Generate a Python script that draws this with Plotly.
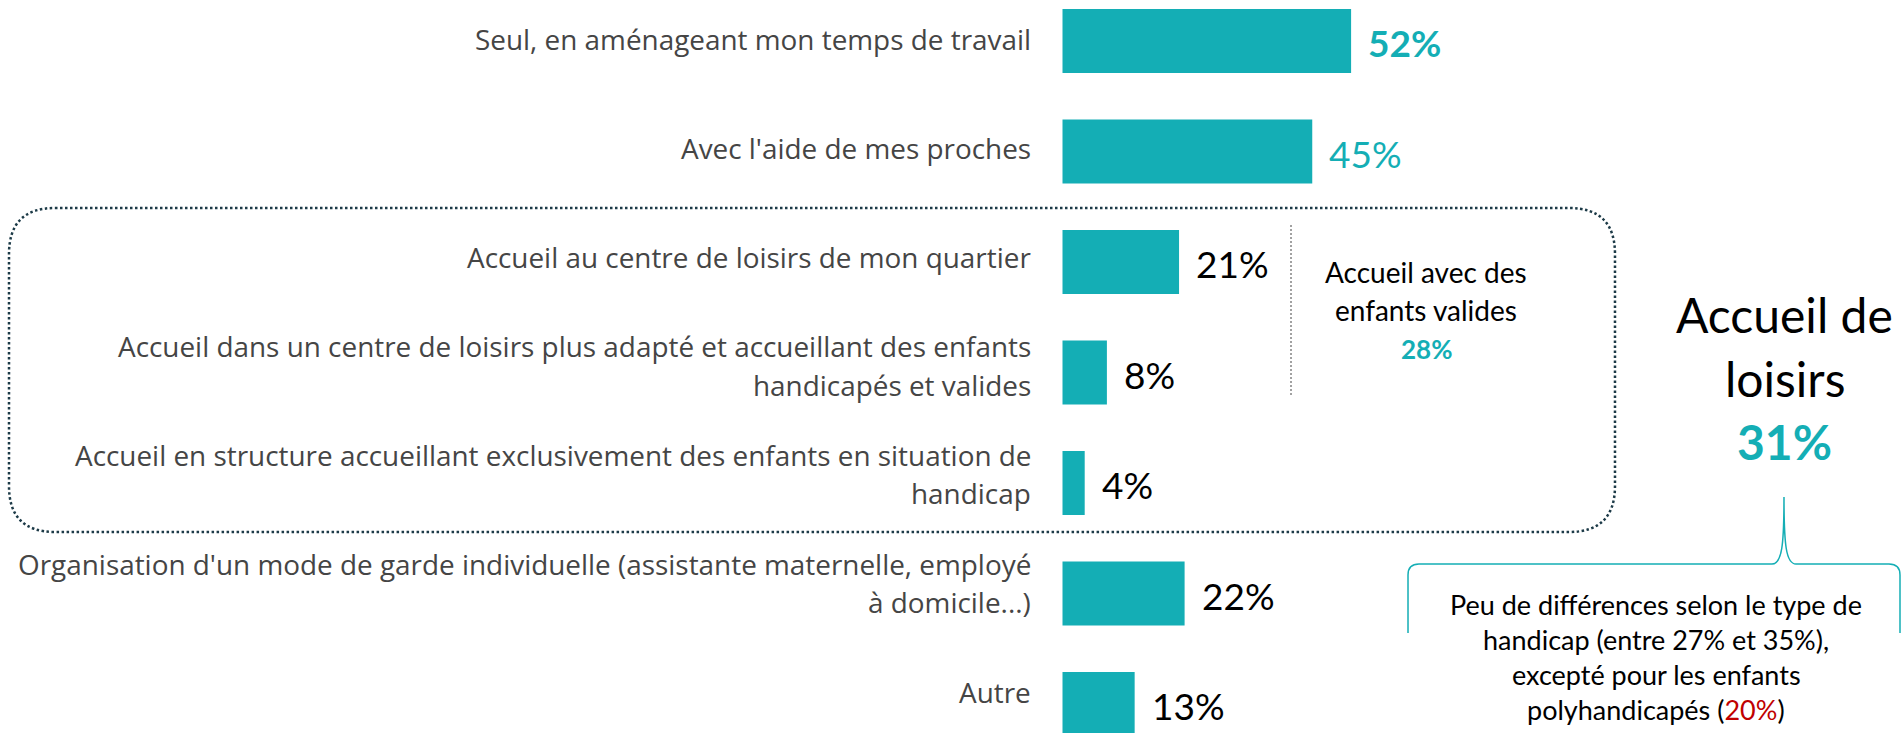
import plotly.graph_objects as go

# ---- data -------------------------------------------------------------
categories = [
    "Seul, en aménageant mon temps de travail",
    "Avec l'aide de mes proches",
    "Accueil au centre de loisirs de mon quartier",
    "Accueil dans un centre de loisirs plus adapté et accueillant des enfants<br>handicapés et valides",
    "Accueil en structure accueillant exclusivement des enfants en situation de<br>handicap",
    "Organisation d'un mode de garde individuelle (assistante maternelle, employé<br>à domicile...)",
    "Autre",
]
values = [52, 45, 21, 8, 4, 22, 13]

group_title = ["Accueil avec des", "enfants valides"]
group_value = 28

total_title = ["Accueil de", "loisirs"]
total_value = 31

note_lines = [
    "Peu de différences selon le type de",
    "handicap (entre 27% et 35%),",
    "excepté pour les enfants",
    "polyhandicapés ({})",
]
note_highlight = 20

# ---- styling ----------------------------------------------------------
W, H = 1904, 733
TEAL = "#14AEB5"
RED = "#C00000"
DARK = "#1c3a47"
LABEL_GREY = "#454545"

BASE_PX = 1062.5      # pixel column where bars start
PX_PER_PCT = 5.55     # horizontal scale
ROW0, ROW_STEP = 41.0, 110.5

n = len(categories)
idx = list(range(n))


def px(x):
    return x / W


def py(y):
    return 1 - y / H


fig = go.Figure()
fig.add_trace(go.Bar(
    x=values, y=idx, orientation="h", width=0.58,
    marker=dict(color=TEAL, line=dict(width=0)),
    hoverinfo="skip",
))

annotations = []

# category labels (right aligned, left of the bars)
for i, cat in enumerate(categories):
    lines = cat.split("<br>")
    centre = 39.3 + 108.7 * i
    m = len(lines)
    for k, line in enumerate(lines):
        y_px = centre + (k - (m - 1) / 2) * 38.5
        annotations.append(dict(
            xref="x", yref="paper", x=0, y=py(y_px), xshift=-31,
            xanchor="right", yanchor="middle", showarrow=False,
            text=line, borderpad=0,
            font=dict(family="Open Sans", size=27.9, color=LABEL_GREY),
        ))

# value labels at the end of each bar
for i, v in enumerate(values):
    if i == 0:
        txt, col = f"<b>{v}%</b>", TEAL
    elif i == 1:
        txt, col = f"{v}%", TEAL
    else:
        txt, col = f"{v}%", "black"
    annotations.append(dict(
        xref="x", yref="y", x=v, y=i, xshift=16, yshift=-1.5,
        xanchor="left", yanchor="middle", showarrow=False,
        text=txt, borderpad=0,
        font=dict(family="Lato", size=37, color=col),
    ))

# sub-total of the group inside the dotted frame
for k, line in enumerate(group_title):
    annotations.append(dict(
        xref="paper", yref="paper", x=px(1426), y=py(272 + 38 * k),
        xanchor="center", yanchor="middle", showarrow=False,
        text=line, borderpad=0,
        font=dict(family="Lato", size=28, color="black"),
    ))
annotations.append(dict(
    xref="paper", yref="paper", x=px(1426), y=py(349),
    xanchor="center", yanchor="middle", showarrow=False,
    text=f"<b>{group_value}%</b>", borderpad=0,
    font=dict(family="Lato", size=26, color=TEAL),
))

# overall leisure-centre total
for k, line in enumerate(total_title):
    annotations.append(dict(
        xref="paper", yref="paper", x=px(1784.5), y=py(314.5 + 63.5 * k),
        xanchor="center", yanchor="middle", showarrow=False,
        text=line, borderpad=0,
        font=dict(family="Lato", size=48, color="black"),
    ))
annotations.append(dict(
    xref="paper", yref="paper", x=px(1784.5), y=py(441.5),
    xanchor="center", yanchor="middle", showarrow=False,
    text=f"<b>{total_value}%</b>", borderpad=0,
    font=dict(family="Lato", size=48, color=TEAL),
))

# note under the brace
for k, line in enumerate(note_lines):
    txt = line.format(f"<span style='color:{RED}'>{note_highlight}%</span>")
    annotations.append(dict(
        xref="paper", yref="paper", x=px(1656), y=py(604.5 + 35 * k),
        xanchor="center", yanchor="middle", showarrow=False,
        text=txt, borderpad=0,
        font=dict(family="Lato", size=27, color="black"),
    ))


def path_paper(cmds):
    out = []
    for c in cmds:
        if isinstance(c, str):
            out.append(c)
        else:
            out.append(f"{px(c[0]):.5f},{py(c[1]):.5f}")
    return " ".join(out)


def rounded_rect(x0, y0, x1, y1, r):
    return path_paper([
        "M", (x0 + r, y0), "L", (x1 - r, y0), "Q", (x1, y0), (x1, y0 + r),
        "L", (x1, y1 - r), "Q", (x1, y1), (x1 - r, y1),
        "L", (x0 + r, y1), "Q", (x0, y1), (x0, y1 - r),
        "L", (x0, y0 + r), "Q", (x0, y0), (x0 + r, y0), "Z",
    ])


brace = path_paper([
    "M", (1408, 633), "L", (1408, 575), "Q", (1408, 564), (1419, 564),
    "L", (1772, 564), "C", (1782, 564), (1784, 545), (1784, 497),
    "C", (1784, 545), (1786, 564), (1796, 564),
    "L", (1889, 564), "Q", (1900, 564), (1900, 575), "L", (1900, 633),
])

shapes = [
    dict(type="path", xref="paper", yref="paper",
         path=rounded_rect(9, 208, 1615, 532, 46),
         line=dict(color=DARK, width=2.5, dash="2.5px,2.5px")),
    dict(type="line", xref="paper", yref="paper",
         x0=px(1291), x1=px(1291), y0=py(225), y1=py(397),
         line=dict(color="#444444", width=1, dash="2px,2px")),
    dict(type="path", xref="paper", yref="paper", path=brace,
         line=dict(color=TEAL, width=1.5)),
]

fig.update_layout(
    width=W, height=H,
    margin=dict(l=0, r=0, t=0, b=0),
    paper_bgcolor="white", plot_bgcolor="white",
    showlegend=False,
    xaxis=dict(range=[-BASE_PX / PX_PER_PCT, (W - BASE_PX) / PX_PER_PCT],
               visible=False, fixedrange=True),
    yaxis=dict(range=[(H - ROW0) / ROW_STEP, -ROW0 / ROW_STEP],
               visible=False, fixedrange=True),
    annotations=annotations,
    shapes=shapes,
)

fig.write_html("out.html", config={"displayModeBar": False})
